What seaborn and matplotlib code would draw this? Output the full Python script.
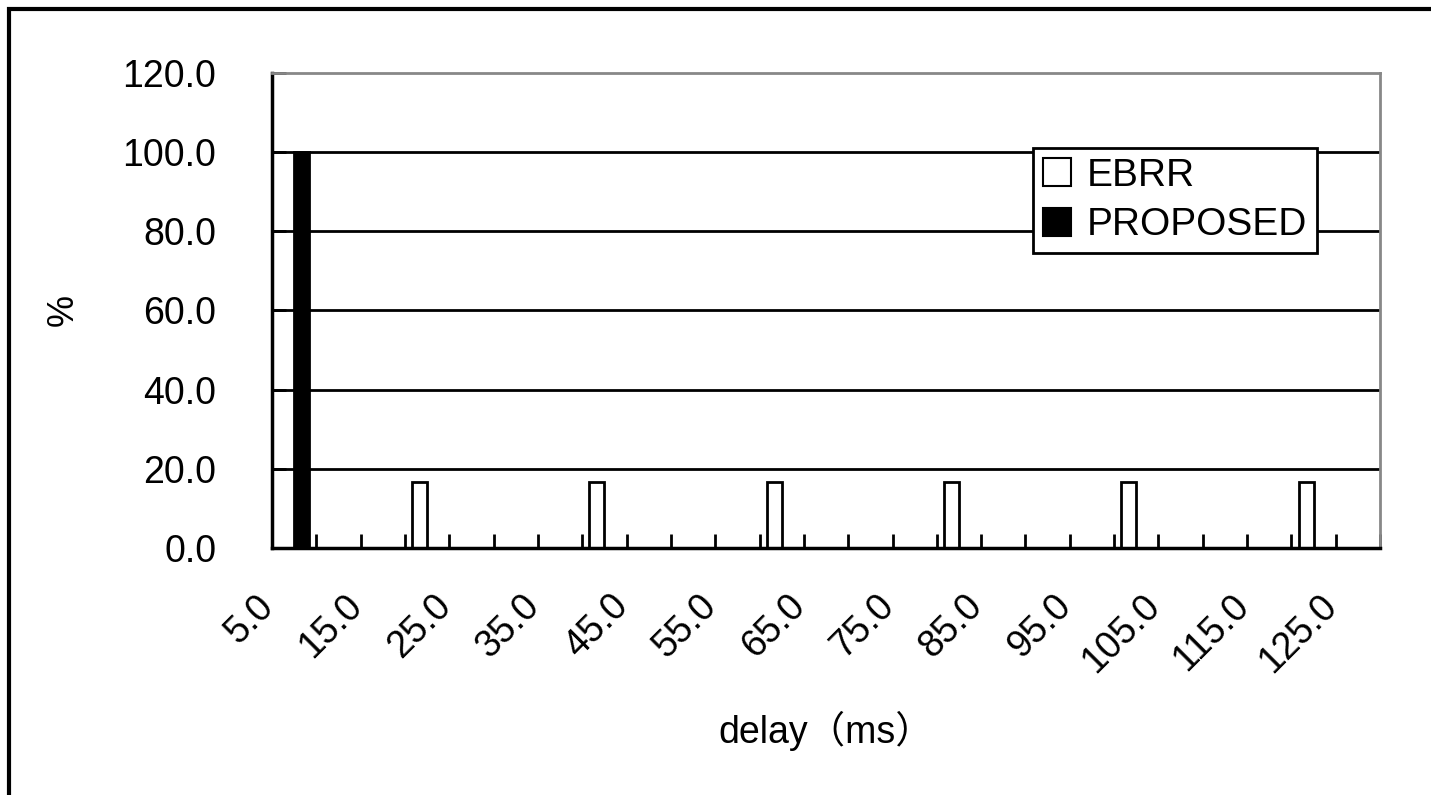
import matplotlib
matplotlib.use('Agg')
import matplotlib.pyplot as plt
from matplotlib.patches import Patch, Rectangle
from matplotlib.transforms import ScaledTranslation
import pandas as pd
import seaborn as sns

# delay categories (ms)
delays = ['5.0', '10.0', '15.0', '20.0', '25.0', '30.0', '35.0', '40.0', '45.0',
          '50.0', '55.0', '60.0', '65.0', '70.0', '75.0', '80.0', '85.0', '90.0',
          '95.0', '100.0', '105.0', '110.0', '115.0', '120.0', '125.0']
ebrr = [0, 0, 0, 16.7, 0, 0, 0, 16.7, 0, 0, 0, 16.7, 0, 0, 0, 16.7, 0, 0, 0,
        16.7, 0, 0, 0, 16.7, 0]
proposed = [100.0, 0, 0, 0, 0, 0, 0, 0, 0, 0, 0, 0, 0, 0, 0, 0, 0, 0, 0, 0, 0,
            0, 0, 0, 0]
series = ['EBRR', 'PROPOSED']
yticks = [0, 20, 40, 60, 80, 100, 120]

df = pd.DataFrame({
    'delay': delays * 2,
    'series': ['EBRR'] * len(delays) + ['PROPOSED'] * len(delays),
    'value': ebrr + proposed,
})

sns.set_theme(style='white')
plt.rcParams['font.family'] = ['Liberation Sans', 'Noto Sans CJK JP', 'DejaVu Sans']
plt.rcParams['text.color'] = 'black'
plt.rcParams['axes.labelcolor'] = 'black'
plt.rcParams['xtick.color'] = 'black'
plt.rcParams['ytick.color'] = 'black'
FS = 27

fig = plt.figure(figsize=(14.31, 7.95), dpi=100)
ax = fig.add_axes([0.1901, 0.3107, 0.7743, 0.5975])

sns.barplot(data=df, x='delay', y='value', hue='series', order=delays,
            hue_order=series, palette={'EBRR': 'white', 'PROPOSED': 'black'},
            edgecolor='black', linewidth=2, width=0.68, saturation=1, ax=ax)

ax.set_xlim(-0.5, len(delays) - 0.5)
ax.set_ylim(0, 120)
ax.set_yticks(yticks)
ax.set_yticklabels(['%.1f' % v for v in yticks], fontsize=FS)
for v in yticks[1:-1]:
    ax.axhline(v, color='black', lw=2, zorder=0)

# labels every other category, tick marks on category boundaries
ax.set_xticks(range(0, len(delays), 2))
ax.set_xticklabels(delays[::2], fontsize=FS, rotation=45, ha='right',
                   va='center', rotation_mode='anchor')
ax.set_xticks([i - 0.5 for i in range(len(delays) + 1)], minor=True)
ax.tick_params(axis='x', which='major', length=0, pad=38)
ax.tick_params(axis='x', which='minor', direction='in', length=10, width=2,
               color='black', bottom=True)
ax.tick_params(axis='y', direction='in', length=10, width=2, color='black',
               left=True, pad=40)
off = ScaledTranslation(-0.26, 0, fig.dpi_scale_trans)
for lab in ax.get_xticklabels():
    lab.set_transform(lab.get_transform() + off)

for s in ['left', 'bottom']:
    ax.spines[s].set_color('black')
    ax.spines[s].set_linewidth(2.5)
for s in ['top', 'right']:
    ax.spines[s].set_color('#888888')
    ax.spines[s].set_linewidth(2)

ax.set_xlabel('delay（ms）', fontsize=FS, labelpad=22)
ax.set_ylabel('%', fontsize=FS - 1, labelpad=30)

ax.get_legend().remove()
handles = [Patch(facecolor='white', edgecolor='black', lw=1.5),
           Patch(facecolor='black', edgecolor='black', lw=1.5)]
leg = ax.legend(handles, series, loc='lower left', bbox_to_anchor=(0.687, 0.621),
                borderaxespad=0, fontsize=FS + 1, frameon=True, fancybox=False,
                framealpha=1, edgecolor='black', handlelength=0.72,
                handleheight=0.72, handletextpad=0.4, borderpad=0.25,
                labelspacing=0.35)
leg.get_frame().set_linewidth(2)

# outer chart frame
fig.add_artist(Rectangle((0.0063, -0.2), 1.2, 1.1893, transform=fig.transFigure,
                         fill=False, lw=3, edgecolor='black', clip_on=False))

fig.savefig('out.png', dpi=100, facecolor='white')
